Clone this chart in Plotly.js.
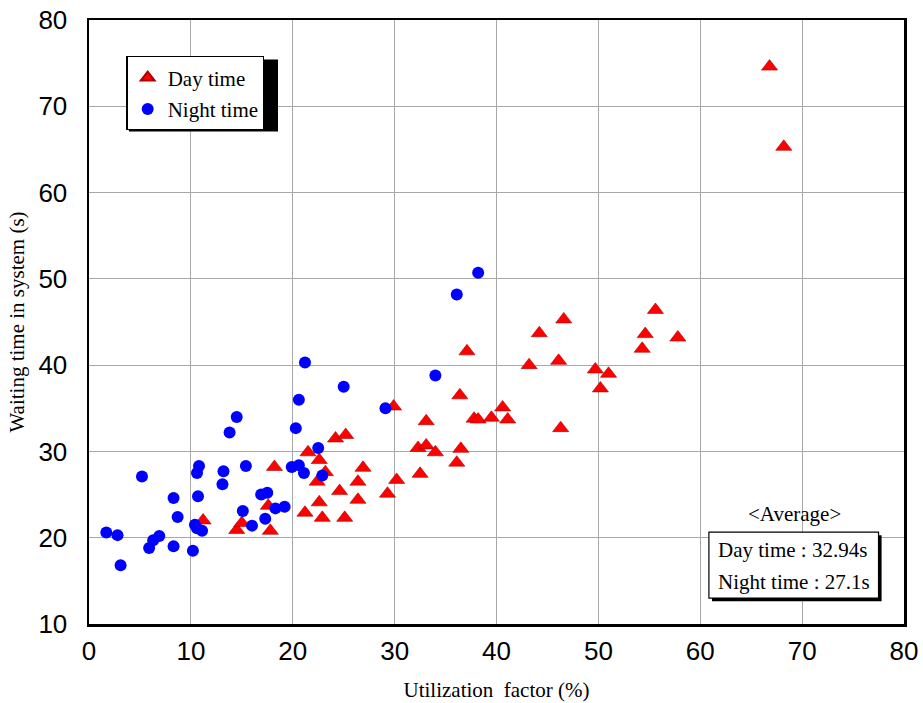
<!DOCTYPE html>
<html>
<head>
<meta charset="utf-8">
<script src="https://cdn.plot.ly/plotly-3.0.1.min.js"></script>
<style>html,body{margin:0;padding:0;background:#fff;}#chart{width:923px;height:703px;}</style>
</head>
<body>
<div id="chart"></div>
<script>
// Day time: utilization factor (%) and waiting time (s)
const dayX = [11.2,14.5,15.0,17.6,17.8,18.2,21.2,21.5,22.4,22.6,22.6,22.9,23.2,24.2,24.6,25.1,25.2,26.4,26.4,26.9,29.3,29.9,30.2,32.3,32.5,33.1,33.1,34.0,36.1,36.5,36.4,37.1,37.8,38.2,39.5,40.6,41.1,43.2,44.2,46.1,46.3,46.6,49.7,50.2,51.0,54.3,54.6,55.6,57.8,66.8,68.2];
const dayY = [22.0,20.9,21.7,23.7,20.8,28.2,22.9,29.9,26.5,29.0,24.1,22.3,27.6,31.5,25.4,22.3,31.9,26.5,24.4,28.1,25.1,35.2,26.7,30.4,27.4,30.7,33.5,29.9,28.7,30.3,36.5,41.6,33.8,33.7,33.9,35.1,33.7,40.0,43.7,40.5,32.7,45.3,39.5,37.3,39.0,41.9,43.6,46.4,43.2,74.6,65.3];
// Night time
const nightX = [1.7,2.8,3.1,5.2,5.9,6.3,6.9,8.3,8.3,8.7,10.2,10.4,10.6,10.6,10.7,10.8,11.1,13.1,13.2,13.8,14.5,15.1,15.4,16.0,16.9,17.3,17.5,18.3,19.2,19.9,20.3,20.6,20.6,21.1,21.2,22.5,22.9,25.0,29.1,34.0,36.1,38.2];
const nightY = [20.6,20.3,16.8,27.1,18.8,19.7,20.2,24.6,19.0,22.4,18.5,21.5,21.1,27.5,24.8,28.3,20.8,26.2,27.7,32.2,34.0,23.1,28.3,21.4,25.0,22.2,25.2,23.4,23.6,28.2,32.7,28.4,36.0,27.5,40.3,30.4,27.2,37.5,35.0,38.8,48.2,50.7];
const seriesNames = ["Day time", "Night time"];
const xTicks = [0,10,20,30,40,50,60,70,80];
const yTicks = [10,20,30,40,50,60,70,80];
const avgTitle = "&lt;Average&gt;";
const avgLines = ["Day time : 32.94s", "Night time : 27.1s"];

const serif = "Liberation Serif, Times New Roman, serif";
const sans = "Liberation Sans, Arial, sans-serif";

const traces = [
  {x: dayX, y: dayY, name: seriesNames[0], type: "scatter", mode: "markers", legendgroup: "d",
   marker: {symbol: "triangle-up", size: 14, color: "#ff0000", line: {color: "#b00000", width: 0.6}}},
  {x: nightX, y: nightY, name: seriesNames[1], type: "scatter", mode: "markers", legendgroup: "n",
   marker: {symbol: "circle", size: 12, color: "#0000ff", line: {width: 0}}}
];

const layout = {
  width: 923, height: 703,
  margin: {l: 89, r: 19, t: 20, b: 79},
  paper_bgcolor: "#fff", plot_bgcolor: "#fff",
  showlegend: true,
  legend: {x: 0.046, y: 0.94, xanchor: "left", yanchor: "top",
    bgcolor: "#fff", bordercolor: "#000", borderwidth: 1.2,
    font: {family: serif, size: 21, color: "#000"},
    traceorder: "grouped", tracegroupgap: 1, itemsizing: "constant",
    entrywidth: 110, entrywidthmode: "pixels"},
  xaxis: {range: [0, 80], tickvals: xTicks, ticktext: xTicks.map(String), showgrid: true,
    gridcolor: "#a8a8a8", gridwidth: 1, zeroline: false, showline: true, linecolor: "#000", linewidth: 2.5,
    mirror: true, ticks: "", ticklabelstandoff: 2,
    tickfont: {family: sans, size: 26, color: "#000"},
    title: {text: "Utilization&nbsp;&nbsp;factor (%)", font: {family: serif, size: 21, color: "#000"}, standoff: 18}},
  yaxis: {range: [10, 80], tickvals: yTicks, ticktext: yTicks.map(String), showgrid: true,
    gridcolor: "#a8a8a8", gridwidth: 1, zeroline: false, showline: true, linecolor: "#000", linewidth: 2.5,
    mirror: true, ticks: "", ticklabelstandoff: 14,
    tickfont: {family: sans, size: 26, color: "#000"},
    title: {text: "Waiting time in system (s)", font: {family: serif, size: 21, color: "#000"}, standoff: 8}},
  shapes: [
    // legend shadow
    {type: "rect", xref: "paper", yref: "paper", layer: "above",
     x0: 0.049, x1: 0.2319, y0: 0.8152, y1: 0.9346, fillcolor: "#000", line: {width: 0}},
    // average box shadow
    {type: "rect", xref: "x", yref: "y", layer: "above",
     x0: 61.15, x1: 77.8, y0: 12.65, y1: 20.3, fillcolor: "#000", line: {width: 0}},
    // average box
    {type: "rect", xref: "x", yref: "y", layer: "above",
     x0: 60.85, x1: 77.5, y0: 13.0, y1: 20.65, fillcolor: "#fff", line: {color: "#000", width: 1.2}}
  ],
  annotations: [
    {xref: "x", yref: "y", x: 69.3, y: 22.8, text: avgTitle, showarrow: false,
     font: {family: serif, size: 21, color: "#000"}},
    {xref: "x", yref: "y", x: 61.5, y: 18.6, xanchor: "left", text: avgLines[0], showarrow: false,
     font: {family: serif, size: 21, color: "#000"}},
    {xref: "x", yref: "y", x: 61.5, y: 14.9, xanchor: "left", text: avgLines[1], showarrow: false,
     font: {family: serif, size: 21, color: "#000"}}
  ]
};

Plotly.newPlot("chart", traces, layout, {displayModeBar: false, staticPlot: true});
</script>
</body>
</html>
